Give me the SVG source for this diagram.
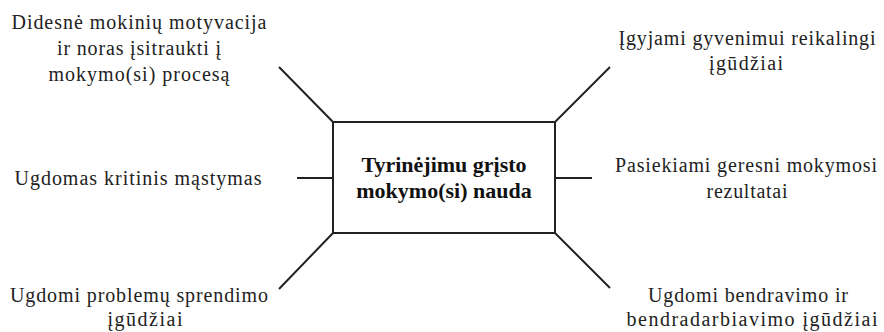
<svg xmlns="http://www.w3.org/2000/svg" width="884" height="332" viewBox="0 0 884 332">
<style>
text{font-family:'Liberation Serif',serif;font-size:20px;fill:#222;text-anchor:middle}
.b{font-weight:bold;font-size:22px;fill:#111}
.c line{stroke:#222;stroke-width:2}
.box{fill:#fff;stroke:#222;stroke-width:2}
</style>
<rect width="884" height="332" fill="#fff"/>
<g class="c" id="connectors">
<line x1="333" y1="122" x2="279" y2="67"/>
<line x1="555" y1="122" x2="610" y2="67"/>
<line x1="297" y1="178" x2="333" y2="178"/>
<line x1="555" y1="178" x2="592" y2="178"/>
<line x1="333" y1="233" x2="279" y2="289"/>
<line x1="555" y1="233" x2="610" y2="288"/>
</g>
<g id="center">
<rect class="box" x="333" y="122" width="222" height="111"/>
<text class="b" x="444" y="172">Tyrinėjimu grįsto</text>
<text class="b" x="444" y="198">mokymo(si) nauda</text>
</g>
<g id="n1">
<text x="139" y="29" textLength="255">Didesnė mokinių motyvacija</text>
<text x="139" y="55" textLength="164">ir noras įsitraukti į</text>
<text x="139" y="81" textLength="181">mokymo(si) procesą</text>
</g>
<g id="n2">
<text x="747" y="45" textLength="257">Įgyjami gyvenimui reikalingi</text>
<text x="746" y="70" textLength="74">įgūdžiai</text>
</g>
<g id="n3">
<text x="138" y="185" textLength="247">Ugdomas kritinis mąstymas</text>
</g>
<g id="n4">
<text x="746" y="172" textLength="262">Pasiekiami geresni mokymosi</text>
<text x="747" y="198" textLength="81">rezultatai</text>
</g>
<g id="n5">
<text x="139" y="302" textLength="258">Ugdomi problemų sprendimo</text>
<text x="145" y="326" textLength="75">įgūdžiai</text>
</g>
<g id="n6">
<text x="748" y="302" textLength="200">Ugdomi bendravimo ir</text>
<text x="752" y="326" textLength="251">bendradarbiavimo įgūdžiai</text>
</g>
</svg>
